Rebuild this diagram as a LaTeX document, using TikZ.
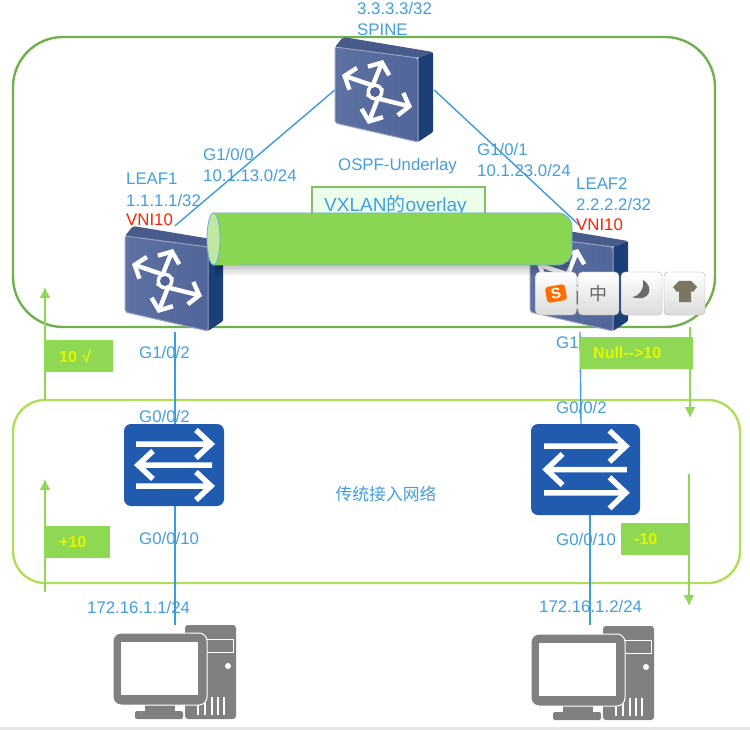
\documentclass[tikz,border=0pt]{standalone}
\usepackage{fontspec}
\setmainfont{Liberation Sans}
\newfontfamily\cjk{Noto Sans CJK SC}
\usetikzlibrary{arrows.meta}
\definecolor{linkblue}{HTML}{3F9BDB}
\definecolor{textblue}{HTML}{439EDD}
\definecolor{outergreen}{HTML}{72B04E}
\definecolor{lowergreen}{HTML}{B1DD58}
\definecolor{tubegreen}{HTML}{8AD652}
\definecolor{taggreen}{HTML}{8FD853}
\definecolor{tagtext}{HTML}{E4F500}
\definecolor{routerfront}{HTML}{51659A}
\definecolor{routerside}{HTML}{1C3F78}
\definecolor{switchblue}{HTML}{205BAF}
\definecolor{pcgray}{HTML}{808080}
\tikzset{
  lbl/.style={anchor=west, inner sep=0pt, text=textblue, font=\fontsize{16.8}{18}\selectfont},
  vni/.style={lbl, text=red!75!orange},
  iconbox/.style={inner sep=0pt, minimum width=#1},
  link/.style={draw=linkblue, line width=1.4pt},
  flow/.style={draw=taggreen, line width=1.4pt, ->},
  tagbox/.style={fill=taggreen, text=tagtext, anchor=west, align=left, inner xsep=13pt, inner ysep=0pt,
    minimum height=32pt, text width=#1, font=\bfseries\fontsize{16}{18}\selectfont},
  imekey/.style={draw=black!35, top color=white, bottom color=black!14, rounded corners=4pt, minimum width=41pt, minimum height=43pt, inner sep=0pt},
  routericon/.pic={
    \fill[routerfront!90!black, rounded corners=2pt] (0,0)--(8,-10)--(98,5)--(83,11)--cycle;
    \fill[routerside, rounded corners=1pt] (83,11)--(98,5)--(98,85)--(83,95)--cycle;
    \draw[left color=routerfront!92!white, right color=routerfront, draw=routerfront!60!white, line width=1pt, rounded corners=2pt]
      (0,0)--(83,11)--(83,95)--(0,76)--cycle;
    \foreach \tipx/\tipy/\tailx/\taily in {48/13/33/50, 7/28/45/41, 77/60/37/50, 33/77/47/41}
      \draw[white, line width=4.4pt, -{Straight Barb[length=9pt,width=23pt]}] (\tailx,\taily)--(\tipx,\tipy);
    \fill[white] (40,45) circle (8.5);
    \fill[routerfront] (40,45) circle (5);
  },
  switchicon/.pic={
    \fill[switchblue, rounded corners=7pt] (0,0) rectangle (100,82);
    \draw[white, line width=5.5pt] (12,20)--(87,20) (72,6)--(87,20)--(72,34);
    \draw[white, line width=5.5pt] (88,41)--(14,41) (29,27)--(14,41)--(29,55);
    \draw[white, line width=5.5pt] (12,62)--(87,62) (72,48)--(87,62)--(72,76);
  },
  pcicon/.pic={
    \fill[pcgray, rounded corners=3pt] (72,0) rectangle (123,94);
    \draw[white, line width=1pt] (88,14) rectangle (120,27);
    \fill[white] (115,41) circle (3);
    \foreach \x in {85,92,99,105,111}
      \draw[white, line width=1.2pt] (\x,72)--(\x,90);
    \fill[pcgray] (32,78) rectangle (62,87);
    \fill[pcgray, rounded corners=2pt] (22,86) rectangle (70,94);
    \draw[fill=pcgray, draw=white, line width=1pt, rounded corners=8pt] (0,8) rectangle (94,80);
    \fill[white] (8,17) rectangle (85,70);
  },
}
\begin{document}
\begin{tikzpicture}[x=1pt, y=-1pt, >={Latex[length=11pt,width=11pt]}]
\useasboundingbox (0,0) rectangle (750,730);
\fill[black!10] (0,727) rectangle (750,730);

\node[lbl] (spineip) at (357,8) {3.3.3.3/32};
\node[lbl] (spinename) at (357,30) {SPINE};

\draw[outergreen, line width=2.4pt, rounded corners=50pt] (13,37) rectangle (715,327);
\draw[lowergreen, line width=2.4pt, rounded corners=32pt] (13,400) rectangle (740,583);

% icon positions
\node[iconbox=99pt, minimum height=105pt] (spine) at (384.5,90) {};
\node[iconbox=99pt, minimum height=106pt] (leafa) at (175,279) {};
\node[iconbox=99pt, minimum height=106pt] (leafb) at (580,279) {};
\node[iconbox=100pt, minimum height=82pt] (swa) at (175,465) {};
\node[iconbox=100pt, minimum height=91pt] (swb) at (581,469.5) {};
\node[iconbox=123pt, minimum height=94pt] (pca) at (175,672) {};
\node[iconbox=118pt, minimum height=94pt] (pcb) at (590,672) {};
\coordinate (swbtop) at (swb.north);
\coordinate (swbbot) at (590,515);

\draw[link] (spine.west)--(leafa.north);
\draw[link] (spine.east)--(leafb.north);
\draw[link] (leafa.south)--(swa.north);
\draw[link] (swa.south)--(pca.north);

\pic at (335,47) {routericon};
\pic at (125,236) {routericon};
\pic at (530,236) {routericon};
\pic at (124,424) {switchicon};
\pic[xscale=1.09, yscale=1.11] at (531,424) {switchicon};
\pic at (113,625) {pcicon};
\pic at (531,626) {pcicon};

\node[lbl] (portspa) at (203,154) {G1/0/0};
\node[lbl] (netspa) at (203,175) {10.1.13.0/24};
\node[lbl] (underlay) at (338,166) {OSPF-Underlay};
\node[lbl] (portspb) at (477,149) {G1/0/1};
\node[lbl] (netspb) at (477,170) {10.1.23.0/24};
\node[lbl] (leafaname) at (126,179) {LEAF1};
\node[lbl] (leafaip) at (126,200) {1.1.1.1/32};
\node[vni] (leafavni) at (126,220) {VNI10};
\node[lbl] (leafbname) at (576,184) {LEAF2};
\node[lbl] (leafbip) at (576,204) {2.2.2.2/32};
\node[vni] (leafbvni) at (576,225) {VNI10};
\node[lbl] (portaa) at (139,352) {G1/0/2};
\node[lbl] (portab) at (139,416) {G0/0/2};
\node[lbl] (portac) at (139,538) {G0/0/10};
\node[lbl] (hosta) at (87,607) {172.16.1.1/24};
\node[lbl] (portba) at (556,343) {G1.};
\node[lbl] (portbb) at (556,407) {G0/0/2};
\node[lbl] (portbc) at (556,539) {G0/0/10};
\node[lbl] (hostb) at (539,606) {172.16.1.2/24};
\node[lbl, anchor=center] (access) at (386,494) {\cjk 传统接入网络};

\draw[link] (leafb.south)--(swbtop);
\draw[link] (swbbot)--(pcb.north);

% overlay tunnel
\draw[fill=green!8, draw=outergreen!85, line width=1.2pt] (312,216)--(312,187)--(485,187)--(485,216);
\node[lbl, font=\fontsize{19}{20}\selectfont] (overlay) at (324,205) {VXLAN{\cjk 的}overlay};
\foreach \i in {1,...,6}
  \fill[black, opacity=.04] (215,262) rectangle (570,265+1.8*\i);
\draw[fill=tubegreen, draw=linkblue!80, line width=.8pt, rounded corners=14pt]
  (213,213)--(572,213)--(572,265)--(213,265);
\fill[tubegreen] (213,213.4) rectangle (240,264.6);
\draw[fill=tubegreen!55!white, draw=linkblue!80, line width=.8pt] (213.5,239) ellipse (6.5 and 26);

% status tags
\node[tagbox=41pt] (tagaa) at (46,356) {10 √};
\node[tagbox=38pt] (tagab) at (46,542) {+10};
\node[tagbox=87pt] (tagba) at (580,352.5) {Null{-}{-}>10};
\node[tagbox=42pt] (tagbb) at (621,539) {-10};

\coordinate (flowaa) at (45,400);
\coordinate (flowab) at (45,287);
\coordinate (flowac) at (45,592);
\coordinate (flowad) at (45,479);
\coordinate (flowba) at (690,327);
\coordinate (flowbb) at (690,418);
\coordinate (flowbc) at (689,474);
\coordinate (flowbd) at (689,606);
\draw[flow] (flowaa)--(flowab);
\draw[flow] (flowac)--(flowad);
\draw[flow] (flowba)--(flowbb);
\draw[flow] (flowbc)--(flowbd);

% input method bar
\node[imekey] (keya) at (556,293.5) {};
\node[imekey, font=\cjk\fontsize{18}{18}\selectfont, text=black!60] (keyb) at (598.5,293.5) {中};
\node[imekey] (keyc) at (641.5,293.5) {};
\node[imekey] (keyd) at (684.5,293.5) {};
\node[fill=orange!85!red, text=white, rounded corners=3pt, rotate=10, inner sep=1.5pt, minimum width=20pt,
  minimum height=16pt, font=\bfseries\fontsize{15}{15}\selectfont] (sogou) at (keya.center) {S};
\fill[black!58] (643,280) .. controls (654,286) and (651,303) .. (632,297) .. controls (640,296) and (644,289) .. (643,280)--cycle;
\fill[black!55!olive!60!black!70] (679,281)--(691,281)--(697,287)--(693,292)--(691,291)--(691,302)--(679,302)--(679,291)--(677,292)--(673,287)--cycle;
\end{tikzpicture}
\end{document}
